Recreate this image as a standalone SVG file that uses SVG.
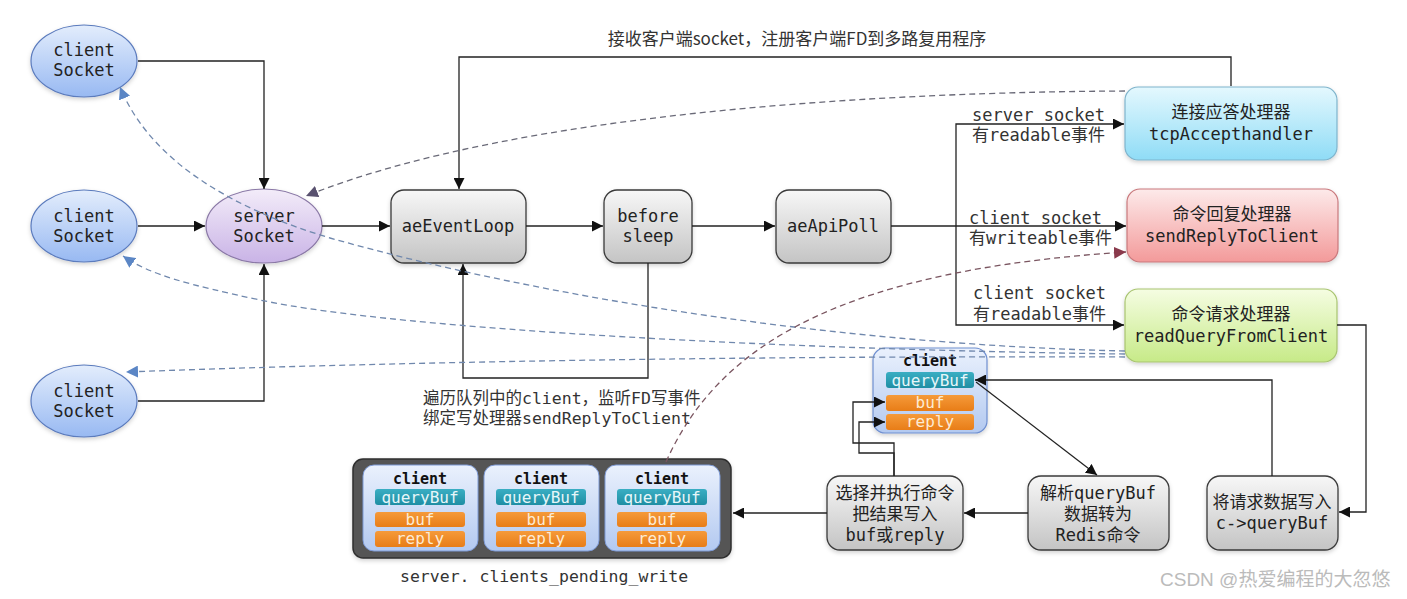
<svg xmlns="http://www.w3.org/2000/svg" width="1407" height="599" viewBox="0 0 1407 599">
<defs>
<linearGradient id="gClient" x1="0" y1="0" x2="0" y2="1"><stop offset="0" stop-color="#e3edfc"/><stop offset="1" stop-color="#98b9f2"/></linearGradient>
<linearGradient id="gServer" x1="0" y1="0" x2="0" y2="1"><stop offset="0" stop-color="#f3ecf9"/><stop offset="1" stop-color="#c9b3e6"/></linearGradient>
<linearGradient id="gGray" x1="0" y1="0" x2="0" y2="1"><stop offset="0" stop-color="#f7f7f7"/><stop offset="1" stop-color="#c4c4c4"/></linearGradient>
<linearGradient id="gBlue" x1="0" y1="0" x2="0" y2="1"><stop offset="0" stop-color="#e4f8fe"/><stop offset="1" stop-color="#8fdcf6"/></linearGradient>
<linearGradient id="gRed" x1="0" y1="0" x2="0" y2="1"><stop offset="0" stop-color="#fdeaea"/><stop offset="1" stop-color="#f39a9a"/></linearGradient>
<linearGradient id="gGreen" x1="0" y1="0" x2="0" y2="1"><stop offset="0" stop-color="#f5fde2"/><stop offset="1" stop-color="#c7ea88"/></linearGradient>
<linearGradient id="gCard" x1="0" y1="0" x2="0" y2="1"><stop offset="0" stop-color="#eaf1fd"/><stop offset="1" stop-color="#b3c9f0"/></linearGradient>
<linearGradient id="gTeal" x1="0" y1="0" x2="0" y2="1"><stop offset="0" stop-color="#3aaec3"/><stop offset="1" stop-color="#1f8ea3"/></linearGradient>
<linearGradient id="gOrange" x1="0" y1="0" x2="0" y2="1"><stop offset="0" stop-color="#f59a3a"/><stop offset="1" stop-color="#e87d17"/></linearGradient>
<filter id="sh" x="-10%" y="-10%" width="130%" height="140%"><feDropShadow dx="0" dy="2" stdDeviation="2" flood-color="#000" flood-opacity="0.18"/></filter>
<marker id="aBlk" viewBox="0 0 10 10" refX="10" refY="5" markerWidth="11" markerHeight="11" markerUnits="userSpaceOnUse" orient="auto"><path d="M0,0 L10,5 L0,10 z" fill="#111"/></marker>
<marker id="aBlue" viewBox="0 0 10 10" refX="10" refY="5" markerWidth="12" markerHeight="12" markerUnits="userSpaceOnUse" orient="auto"><path d="M0,0 L10,5 L0,10 z" fill="#5b86c5"/></marker>
<marker id="aPur" viewBox="0 0 10 10" refX="10" refY="5" markerWidth="12" markerHeight="12" markerUnits="userSpaceOnUse" orient="auto"><path d="M0,0 L10,5 L0,10 z" fill="#5a5270"/></marker>
<marker id="aRed" viewBox="0 0 10 10" refX="10" refY="5" markerWidth="12" markerHeight="12" markerUnits="userSpaceOnUse" orient="auto"><path d="M0,0 L10,5 L0,10 z" fill="#8a3a4c"/></marker>
</defs>
<style>
.m{font-family:"DejaVu Sans Mono","Noto Sans CJK SC",monospace;font-size:17px;fill:#222;text-anchor:middle}
.l{font-family:"DejaVu Sans Mono","Noto Sans CJK SC",monospace;font-size:17px;fill:#333}
.l2{font-family:"DejaVu Sans Mono","Noto Sans CJK SC",monospace;font-size:16.5px;fill:#333}
.cj{font-family:"Noto Sans CJK SC",sans-serif;font-size:17px;fill:#333}
.ln{fill:none;stroke:#222;stroke-width:1.3}
.dsh{fill:none;stroke:#7088ad;stroke-width:1.3;stroke-dasharray:6 4}
.cb{font-family:"DejaVu Sans Mono",monospace;font-size:15px;font-weight:bold;fill:#111;text-anchor:middle}
.fld{font-family:"DejaVu Sans Mono",monospace;font-size:16px;text-anchor:middle}
.tq{fill:#e6f6f9}
.to{fill:#fdebd3}
.box{fill:url(#gGray);stroke:#3a3a3a;stroke-width:1.3}
</style>
<rect width="1407" height="599" fill="#fff"/>

<g id="client1"><ellipse cx="84" cy="61" rx="53" ry="36" fill="url(#gClient)" stroke="#5b7bbd" stroke-width="1.2" filter="url(#sh)"/><text class="m" x="84" y="56">client</text><text class="m" x="84" y="76">Socket</text></g>
<g id="client2"><ellipse cx="84" cy="226" rx="53" ry="36" fill="url(#gClient)" stroke="#5b7bbd" stroke-width="1.2" filter="url(#sh)"/><text class="m" x="84" y="222">client</text><text class="m" x="84" y="242">Socket</text></g>
<g id="client3"><ellipse cx="84" cy="401" rx="53" ry="36" fill="url(#gClient)" stroke="#5b7bbd" stroke-width="1.2" filter="url(#sh)"/><text class="m" x="84" y="397">client</text><text class="m" x="84" y="417">Socket</text></g>
<g id="serverSocket"><ellipse cx="264" cy="226" rx="58" ry="37" fill="url(#gServer)" stroke="#8a78a6" stroke-width="1.2" filter="url(#sh)"/><text class="m" x="264" y="222">server</text><text class="m" x="264" y="242">Socket</text></g>

<g id="aeEventLoop"><rect class="box" x="391" y="190" width="135" height="73" rx="13" filter="url(#sh)"/><text class="m" x="458" y="232">aeEventLoop</text></g>
<g id="beforeSleep"><rect class="box" x="604" y="190" width="88" height="73" rx="13" filter="url(#sh)"/><text class="m" x="648" y="222">before</text><text class="m" x="648" y="242">sleep</text></g>
<g id="aeApiPoll"><rect class="box" x="776" y="190" width="115" height="73" rx="13" filter="url(#sh)"/><text class="m" x="833" y="232">aeApiPoll</text></g>

<g id="tcpAccepthandler"><rect x="1125" y="87" width="212" height="73" rx="13" fill="url(#gBlue)" stroke="#7fb4cc" stroke-width="1.2" filter="url(#sh)"/><text class="m" x="1231" y="118">连接应答处理器</text><text class="m" x="1231" y="140">tcpAccepthandler</text></g>
<g id="sendReplyToClient"><rect x="1127" y="189" width="211" height="73" rx="13" fill="url(#gRed)" stroke="#c9787c" stroke-width="1.2" filter="url(#sh)"/><text class="m" x="1232" y="220">命令回复处理器</text><text class="m" x="1232" y="242">sendReplyToClient</text></g>
<g id="readQueryFromClient"><rect x="1125" y="289" width="212" height="73" rx="13" fill="url(#gGreen)" stroke="#a8c470" stroke-width="1.2" filter="url(#sh)"/><text class="m" x="1231" y="320">命令请求处理器</text><text class="m" x="1231" y="342">readQueryFromClient</text></g>

<g id="clientObj">
<rect x="873" y="348" width="114" height="85" rx="12" fill="url(#gCard)" stroke="#6f8fd0" stroke-width="1.2" filter="url(#sh)"/>
<text class="cb" x="930" y="366">client</text>
<rect x="886" y="372" width="88" height="16" rx="3" fill="url(#gTeal)"/><text class="fld tq" x="930" y="386">queryBuf</text>
<rect x="886" y="395" width="88" height="16" rx="3" fill="url(#gOrange)"/><text class="fld to" x="930" y="408">buf</text>
<rect x="886" y="414" width="88" height="16" rx="3" fill="url(#gOrange)"/><text class="fld to" x="930" y="427">reply</text>
</g>

<g id="pendingWrite">
<rect x="353" y="459" width="378" height="99" rx="10" fill="#555" stroke="#2e2e2e" stroke-width="1.5" filter="url(#sh)"/>
<g id="pw1">
<rect x="363" y="465" width="115" height="86" rx="11" fill="url(#gCard)" stroke="#7d9ad6"/>
<text class="cb" x="420" y="484">client</text>
<rect x="375" y="489" width="90" height="16" rx="3" fill="url(#gTeal)"/><text class="fld tq" x="420" y="503">queryBuf</text>
<rect x="375" y="512" width="90" height="15" rx="3" fill="url(#gOrange)"/><text class="fld to" x="420" y="525">buf</text>
<rect x="375" y="531" width="90" height="16" rx="3" fill="url(#gOrange)"/><text class="fld to" x="420" y="544">reply</text>
</g>
<g id="pw2">
<rect x="484" y="465" width="115" height="86" rx="11" fill="url(#gCard)" stroke="#7d9ad6"/>
<text class="cb" x="541" y="484">client</text>
<rect x="496" y="489" width="90" height="16" rx="3" fill="url(#gTeal)"/><text class="fld tq" x="541" y="503">queryBuf</text>
<rect x="496" y="512" width="90" height="15" rx="3" fill="url(#gOrange)"/><text class="fld to" x="541" y="525">buf</text>
<rect x="496" y="531" width="90" height="16" rx="3" fill="url(#gOrange)"/><text class="fld to" x="541" y="544">reply</text>
</g>
<g id="pw3">
<rect x="605" y="465" width="115" height="86" rx="11" fill="url(#gCard)" stroke="#7d9ad6"/>
<text class="cb" x="662" y="484">client</text>
<rect x="617" y="489" width="90" height="16" rx="3" fill="url(#gTeal)"/><text class="fld tq" x="662" y="503">queryBuf</text>
<rect x="617" y="512" width="90" height="15" rx="3" fill="url(#gOrange)"/><text class="fld to" x="662" y="525">buf</text>
<rect x="617" y="531" width="90" height="16" rx="3" fill="url(#gOrange)"/><text class="fld to" x="662" y="544">reply</text>
</g>
</g>

<g id="execCmd"><rect class="box" x="827" y="476" width="136" height="74" rx="13" filter="url(#sh)"/><text class="m" x="895" y="499">选择并执行命令</text><text class="m" x="895" y="520">把结果写入</text><text class="m" x="895" y="541">buf或reply</text></g>
<g id="parseCmd"><rect class="box" x="1028" y="476" width="141" height="74" rx="13" filter="url(#sh)"/><text class="m" x="1098" y="499">解析queryBuf</text><text class="m" x="1098" y="520">数据转为</text><text class="m" x="1098" y="541">Redis命令</text></g>
<g id="writeQuery"><rect class="box" x="1207" y="476" width="131" height="74" rx="13" filter="url(#sh)"/><text class="m" x="1272" y="508">将请求数据写入</text><text class="m" x="1272" y="529">c-&gt;queryBuf</text></g>

<g id="labels">
<text class="cj" x="797" y="45" text-anchor="middle">接收客户端socket，注册客户端FD到多路复用程序</text>
<text class="l" x="972" y="121">server socket</text>
<text class="l" x="972" y="141">有readable事件</text>
<text class="l" x="969" y="224">client socket</text>
<text class="l" x="969" y="244">有writeable事件</text>
<text class="l" x="973" y="299">client socket</text>
<text class="l" x="973" y="320">有readable事件</text>
<text class="l2" x="423" y="404">遍历队列中的client，监听FD写事件</text>
<text class="l2" x="423" y="424">绑定写处理器sendReplyToClient</text>
<text class="l2" x="400" y="582">server. clients_pending_write</text>
<text x="1160" y="586" style="font-family:'Liberation Sans','Noto Sans CJK SC',sans-serif;font-size:19px;fill:#bbb">CSDN @热爱编程的大忽悠</text>
</g>

<g id="connectors">
<path class="ln" d="M138,61 H264 V189" marker-end="url(#aBlk)"/>
<path class="ln" d="M138,226 H205" marker-end="url(#aBlk)"/>
<path class="ln" d="M138,401 H264 V264" marker-end="url(#aBlk)"/>
<path class="ln" d="M322,226 H390" marker-end="url(#aBlk)"/>
<path class="ln" d="M526,226 H603" marker-end="url(#aBlk)"/>
<path class="ln" d="M692,226 H775" marker-end="url(#aBlk)"/>
<path class="ln" d="M891,226 H1126" marker-end="url(#aBlk)"/>
<path class="ln" d="M956,226 V124 H1124" marker-end="url(#aBlk)"/>
<path class="ln" d="M956,226 V325 H1124" marker-end="url(#aBlk)"/>
<path class="ln" d="M1231,86 V57 H459 V189" marker-end="url(#aBlk)"/>
<path class="ln" d="M648,263 V378 H463 V264" marker-end="url(#aBlk)"/>
<path class="ln" d="M1337,325 H1366 V512 H1339" marker-end="url(#aBlk)"/>
<path class="ln" d="M1272,476 V380 H975" marker-end="url(#aBlk)"/>
<path class="ln" d="M976,382 L1097,475" marker-end="url(#aBlk)"/>
<path class="ln" d="M1028,513 H964" marker-end="url(#aBlk)"/>
<path class="ln" d="M827,513 H733" marker-end="url(#aBlk)"/>
<path class="ln" d="M894,476 V443 H853 V402 H885" marker-end="url(#aBlk)"/>
<path class="ln" d="M894,476 V453 H859 V422 H885" marker-end="url(#aBlk)"/>
<path class="dsh" style="stroke:#6a6a78" d="M1125,91 C 900,92 520,110 306,196" marker-end="url(#aPur)"/>
<path class="dsh" d="M1125,351 C 850,345 550,300 330,238 C 230,208 150,160 120,87" marker-end="url(#aBlue)"/>
<path class="dsh" d="M1125,354 C 800,350 400,330 260,300 C 190,285 150,275 123,256" marker-end="url(#aBlue)"/>
<path class="dsh" d="M1125,357 C 900,356 500,358 126,372" marker-end="url(#aBlue)"/>
<path class="dsh" style="stroke:#7a5560" d="M666,462 C 720,340 850,270 1126,252" marker-end="url(#aRed)"/>
</g>
</svg>
